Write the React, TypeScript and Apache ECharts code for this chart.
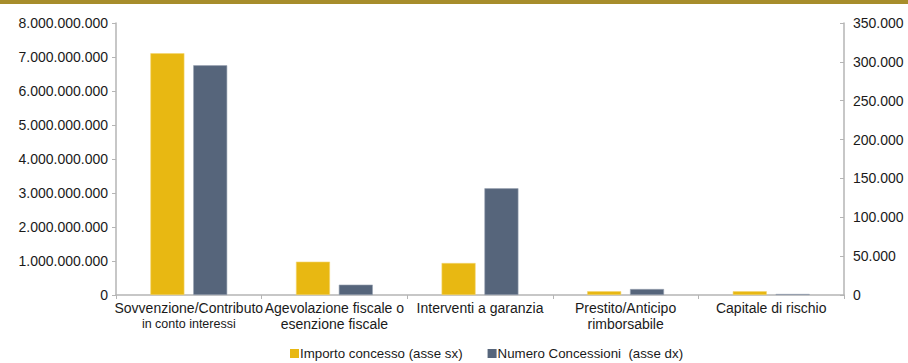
import React, { useEffect, useRef } from "react";
import * as echarts from "echarts";

const categories = [
  "Sovvenzione/Contributo\nin conto interessi",
  "Agevolazione fiscale o\nesenzione fiscale",
  "Interventi a garanzia",
  "Prestito/Anticipo\nrimborsabile",
  "Capitale di rischio",
];
const importoConcesso = [7110000000, 980000000, 940000000, 110000000, 110000000];
const numeroConcessioni = [295600, 13300, 137300, 7700, 1300];
const seriesNames = ["Importo concesso (asse sx)", "Numero Concessioni  (asse dx)"];

const fmt = (v: number) => String(v).replace(/\B(?=(\d{3})+(?!\d))/g, ".");

const FONT = "'Liberation Sans', Arial, Helvetica, sans-serif";

export default function App() {
  const ref = useRef<HTMLDivElement>(null);
  useEffect(() => {
    document.body.style.margin = "0";
    const chart = echarts.init(ref.current!, null, { renderer: "svg" });
    chart.setOption({
      animation: false,
      textStyle: { fontFamily: FONT },
      graphic: [
        { type: "rect", left: 0, top: 0, shape: { width: 908, height: 4 }, style: { fill: "#A78D2B" } },
      ],
      legend: {
        bottom: -2,
        left: 285,
        itemWidth: 9,
        itemHeight: 9,
        itemGap: 25,
        icon: "rect",
        itemStyle: { borderWidth: 0 },
        textStyle: { fontSize: 13.3, color: "#1a1a1a", fontFamily: FONT, padding: [0, 0, 0, -4] },
        data: seriesNames,
      },
      grid: { left: 116, right: 64, top: 23, bottom: 68, containLabel: false },
      xAxis: {
        type: "category",
        data: categories,
        axisLine: { lineStyle: { color: "#b5b5b5", width: 1.5 } },
        axisTick: { show: true, alignWithLabel: false, length: 4, lineStyle: { color: "#b5b5b5" } },
        axisLabel: {
          color: "#1a1a1a",
          fontSize: 14,
          lineHeight: 16,
          margin: 5,
          interval: 0,
          fontFamily: FONT,
          formatter: (v: string, i: number) => {
            const parts = v.split("\n");
            if (i === 0 && parts.length > 1) return `{a|${parts[0]}}\n{b|${parts[1]}}`;
            return parts.map((p) => `{a|${p}}`).join("\n");
          },
          rich: {
            a: { fontSize: 14, lineHeight: 16, color: "#1a1a1a", fontFamily: FONT },
            b: { fontSize: 12.5, lineHeight: 16, color: "#1a1a1a", fontFamily: FONT },
          },
        },
      },
      yAxis: [
        {
          type: "value",
          min: 0,
          max: 8000000000,
          interval: 1000000000,
          splitLine: { show: false },
          axisLine: { show: true, lineStyle: { color: "#b5b5b5", width: 1.5 } },
          axisTick: { show: true, length: 4, lineStyle: { color: "#b5b5b5" } },
          axisLabel: { color: "#1a1a1a", fontSize: 14, margin: 8, formatter: fmt, fontFamily: FONT },
        },
        {
          type: "value",
          min: 0,
          max: 350000,
          interval: 50000,
          position: "right",
          splitLine: { show: false },
          axisLine: { show: true, lineStyle: { color: "#b5b5b5", width: 1.5 } },
          axisTick: { show: true, inside: true, length: 4, lineStyle: { color: "#b5b5b5" } },
          axisLabel: { color: "#1a1a1a", fontSize: 14, margin: 9, formatter: fmt, fontFamily: FONT },
        },
      ],
      series: [
        {
          name: seriesNames[0],
          type: "bar",
          yAxisIndex: 0,
          data: importoConcesso,
          barWidth: 34,
          barGap: "26%",
          itemStyle: { color: "#E8B812", borderColor: "#F3D56E", borderWidth: 0.6 },
        },
        {
          name: seriesNames[1],
          type: "bar",
          yAxisIndex: 1,
          data: numeroConcessioni,
          barWidth: 34,
          barGap: "26%",
          itemStyle: { color: "#56657B", borderColor: "#9AA5B4", borderWidth: 0.6 },
        },
      ],
    });
    return () => chart.dispose();
  }, []);
  return <div ref={ref} style={{ width: 908, height: 363, position: "absolute", left: 0, top: 0 }} />;
}
